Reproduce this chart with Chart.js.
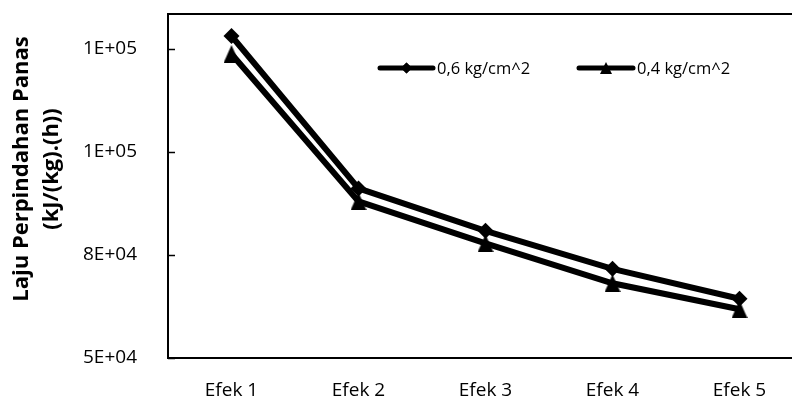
<!DOCTYPE html>
<html>
<head>
<meta charset="utf-8">
<script src="https://cdn.jsdelivr.net/npm/chart.js@4"></script>
<style>
html,body{margin:0;padding:0;background:#fff;overflow:hidden;}
#wrap{width:820px;height:398px;}
</style>
</head>
<body>
<div id="wrap"><canvas id="c" width="820" height="398"></canvas></div>
<script>
const categories = ['Efek 1', 'Efek 2', 'Efek 3', 'Efek 4', 'Efek 5'];
const series06 = [128150, 91170, 80865, 71650, 64375];
const series04 = [123790, 88020, 77830, 68130, 61830];
const seriesNames = ['0,6 kg/cm^2', '0,4 kg/cm^2'];
const yTickValues = [50000, 75000, 100000, 125000];
const yTitleLines = ['Laju Perpindahan Panas', '(kJ/(kg).(h))'];

function makeTriangle(w, h) {
  const cv = document.createElement('canvas');
  cv.width = w; cv.height = h;
  const g = cv.getContext('2d');
  g.fillStyle = '#000';
  g.beginPath();
  g.moveTo(w / 2, 0);
  g.lineTo(w, h);
  g.lineTo(0, h);
  g.closePath();
  g.fill();
  return cv;
}
const triBig = makeTriangle(16, 18);
const triSmall = makeTriangle(12, 12);

function sci(v) {
  const s = Number(v).toExponential(0);
  const parts = s.split('e');
  let exp = parseInt(parts[1], 10);
  const sign = exp < 0 ? '-' : '+';
  exp = Math.abs(exp);
  return parts[0] + 'E' + sign + (exp < 10 ? '0' + exp : '' + exp);
}

const FONT = "'Open Sans', sans-serif";

const decor = {
  id: 'decor',
  afterDraw(chart) {
    const ctx = chart.ctx;
    const a = chart.chartArea;
    const ys = chart.scales.y;
    ctx.save();
    // top border
    ctx.strokeStyle = '#000';
    ctx.lineWidth = 2;
    ctx.beginPath();
    ctx.moveTo(a.left - 1, a.top);
    ctx.lineTo(chart.width, a.top);
    ctx.stroke();
    // inner tick marks
    ctx.lineWidth = 1.5;
    yTickValues.forEach(v => {
      const y = Math.round(ys.getPixelForValue(v)) + 0.5;
      ctx.beginPath();
      ctx.moveTo(a.left, y);
      ctx.lineTo(a.left + 7, y);
      ctx.stroke();
    });
    // y title
    ctx.fillStyle = '#000';
    ctx.font = "bold 22px " + FONT;
    ctx.textAlign = 'center';
    ctx.textBaseline = 'middle';
    const xs = [22, 52];
    yTitleLines.forEach((t, i) => {
      ctx.save();
      ctx.translate(xs[i], 169);
      ctx.rotate(-Math.PI / 2);
      ctx.fillText(t, 0, 0);
      ctx.restore();
    });
    // legend
    const items = [
      {x0: 380, x1: 433, tx: 437, style: 'rectRot', r: 5.5, name: seriesNames[0]},
      {x0: 579, x1: 633, tx: 637, style: triSmall, r: 6, name: seriesNames[1]}
    ];
    const ly = 68;
    items.forEach(it => {
      ctx.strokeStyle = '#000';
      ctx.lineWidth = 5;
      ctx.lineCap = 'round';
      ctx.beginPath();
      ctx.moveTo(it.x0, ly);
      ctx.lineTo(it.x1, ly);
      ctx.stroke();
      Chart.helpers.drawPoint(ctx, {pointStyle: it.style, radius: it.r, borderWidth: 0, rotation: 0}, (it.x0 + it.x1) / 2, ly);
      ctx.fillStyle = '#000';
      if (it.style === 'rectRot') {
        ctx.fill();
      }
      ctx.font = "16.5px " + FONT;
      ctx.textAlign = 'left';
      ctx.textBaseline = 'middle';
      ctx.fillText(it.name, it.tx, ly + 1);
    });
    ctx.restore();
  }
};

new Chart(document.getElementById('c'), {
  type: 'line',
  data: {
    labels: categories,
    datasets: [
      {
        label: seriesNames[0],
        data: series06,
        borderColor: '#000',
        backgroundColor: '#000',
        borderWidth: 6,
        pointStyle: 'rectRot',
        pointRadius: 8,
        pointBorderWidth: 0,
        pointBackgroundColor: '#000',
        tension: 0,
        fill: false
      },
      {
        label: seriesNames[1],
        data: series04,
        borderColor: '#000',
        backgroundColor: '#000',
        borderWidth: 6,
        pointStyle: triBig,
        pointRadius: 9,
        pointBorderWidth: 0,
        tension: 0,
        fill: false
      }
    ]
  },
  options: {
    responsive: false,
    animation: false,
    events: [],
    layout: {padding: {top: 14, right: 17, left: 0, bottom: 0}},
    plugins: {legend: {display: false}, tooltip: {enabled: false}, title: {display: false}},
    scales: {
      x: {
        type: 'category',
        offset: true,
        grid: {display: false},
        border: {display: true, color: '#000', width: 2},
        ticks: {color: '#000', font: {family: FONT, size: 19}, padding: 13, maxRotation: 0, autoSkip: false},
        afterFit(s) { s.height = 40; s.paddingLeft = 0; s.paddingRight = 0; }
      },
      y: {
        type: 'linear',
        min: 50000,
        max: 133500,
        grid: {display: false},
        border: {display: true, color: '#000', width: 2},
        ticks: {color: '#000', font: {family: FONT, size: 19}, padding: 23, stepSize: 25000, callback: v => sci(v)},
        afterBuildTicks(s) { s.ticks = yTickValues.map(v => ({value: v})); },
        afterFit(s) { s.width = 168; s.paddingTop = 0; s.paddingBottom = 0; }
      }
    }
  },
  plugins: [decor]
});
</script>
</body>
</html>
